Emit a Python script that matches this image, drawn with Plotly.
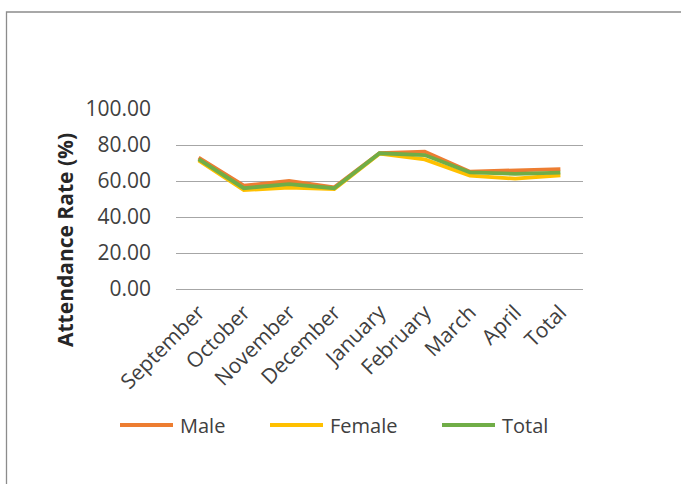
import plotly.graph_objects as go

months = ["September", "October", "November", "December", "January",
          "February", "March", "April", "Total"]
male = [73.0, 57.4, 60.0, 56.5, 75.5, 76.3, 65.2, 66.0, 66.6]
female = [71.5, 55.0, 56.3, 55.5, 75.2, 72.0, 63.0, 61.3, 63.2]
total = [72.2, 56.0, 58.3, 56.0, 75.4, 74.4, 64.8, 64.0, 64.7]
y_ticks = [0, 20, 40, 60, 80, 100]

series = [("Male", male, "#ED7D31"), ("Female", female, "#FFC000"), ("Total", total, "#70AD47")]

W, H = 681, 484
L, T = 176, 109
pw, ph = 407, 180
R, B = W - L - pw, H - T - ph

def px(x):
    return (x - L) / pw

def py(y):
    return (H - B - y) / ph

fig = go.Figure()
for name, vals, col in series:
    fig.add_trace(go.Scatter(x=months, y=vals, mode="lines", name=name,
                             line=dict(color=col, width=3.8), showlegend=False))

font = "'Open Sans', 'Noto Sans', sans-serif"
txt = "#404040"

# frame
fig.add_shape(type="rect", xref="paper", yref="paper",
              x0=px(6.5), x1=px(720), y0=py(520), y1=py(12),
              line=dict(color="#8c8c8c", width=1.3), fillcolor="rgba(0,0,0,0)", layer="below")

# legend (manual)
legend_pos = [(120, 178), (270, 328), (442, 500)]
for (name, vals, col), (lx, tx) in zip(series, legend_pos):
    fig.add_shape(type="line", xref="paper", yref="paper",
                  x0=px(lx), x1=px(lx + 53), y0=py(425), y1=py(425),
                  line=dict(color=col, width=3.8))
    fig.add_annotation(xref="paper", yref="paper", x=px(tx), y=py(425),
                       text=name, showarrow=False, xanchor="left", yanchor="middle",
                       font=dict(family=font, size=20, color=txt))

fig.add_annotation(xref="paper", yref="paper", x=px(65), y=py(240),
                   text="<b>Attendance Rate (%)</b>", textangle=-90, showarrow=False,
                   xanchor="center", yanchor="middle",
                   font=dict(family=font, size=21, color="#262626"))

fig.update_layout(
    width=W, height=H,
    margin=dict(l=L, r=R, t=T, b=B, autoexpand=False),
    paper_bgcolor="white", plot_bgcolor="white",
    font=dict(family=font, size=20, color=txt),
    xaxis=dict(type="category", tickangle=-45, showgrid=False, showline=False,
               ticks="", tickfont=dict(size=21, color=txt), range=[-0.5, 8.5],
               ticklabelstandoff=6),
    yaxis=dict(range=[0, 100], tickvals=y_ticks, tickformat=".2f",
               showgrid=True, gridcolor="#A6A6A6", gridwidth=1.3,
               zeroline=True, zerolinecolor="#A6A6A6", zerolinewidth=1.3,
               showline=False, ticks="", ticklabelstandoff=24,
               tickfont=dict(size=21, color=txt)),
    showlegend=False,
)

fig.write_html("out.html", config={"displayModeBar": False},
               post_script="document.body.style.margin='0px';")
